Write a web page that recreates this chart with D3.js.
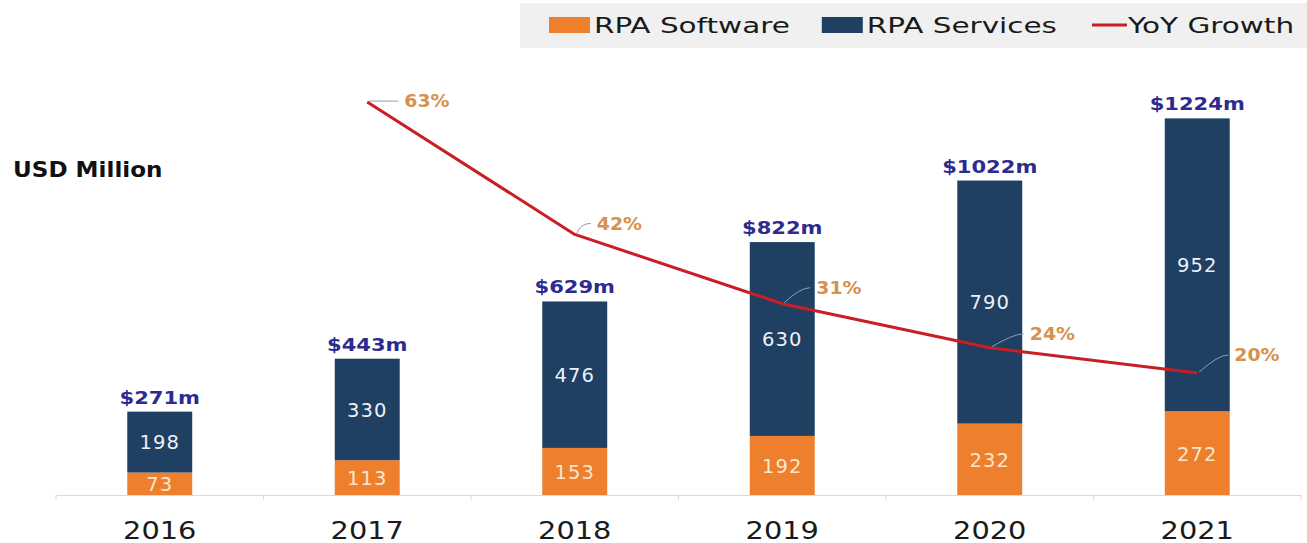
<!DOCTYPE html>
<html>
<head>
<meta charset="utf-8">
<script src="https://cdn.jsdelivr.net/npm/d3@7"></script>
<style>
  body { margin: 0; background: #fff; }
  svg { display: block; }
</style>
</head>
<body>
<svg id="chart" width="1307" height="543"></svg>
<script>
// Data
const years = ["2016", "2017", "2018", "2019", "2020", "2021"];
const software = [73, 113, 153, 192, 232, 272];
const services = [198, 330, 476, 630, 790, 952];
const totals = [271, 443, 629, 822, 1022, 1224];
const growthYears = ["2017", "2018", "2019", "2020", "2021"];
const growth = [63, 42, 31, 24, 20];
const legendLabels = ["RPA Software", "RPA Services", "YoY Growth"];
const unitLabel = "USD Million";

// Styling
const C = {
  software: "#EE7F2D",
  services: "#1F3F63",
  line: "#C81E24",
  total: "#2D2B90",
  pct: "#D6914C",
  axis: "#d9d9d9",
  leader: "#8a9fb6"
};
const FONT = "'DejaVu Sans', sans-serif";

const svg = d3.select("#chart");

// Scales
const x = d3.scaleBand().domain(years).range([56, 1301])
  .paddingInner(0.687).paddingOuter(0.3435);
const y = d3.scaleLinear().domain([0, 1300]).range([495, 95]);
const y2 = d3.scaleLinear().domain([0, 70]).range([499, 58]);
const cx = d => x(d) + x.bandwidth() / 2;

// Text helper: horizontally stretched text anchored at (tx, ty)
function stretchedText(sel, tx, ty, sx) {
  return sel.attr("x", 0).attr("y", 0)
    .attr("transform", `translate(${tx},${ty}) scale(${sx},1)`);
}

// Stacked bars
const table = years.map((yr, i) => ({ year: yr, software: software[i], services: services[i] }));
const stack = d3.stack().keys(["software", "services"])(table);

const layers = svg.append("g").selectAll("g")
  .data(stack).join("g")
  .attr("fill", d => C[d.key]);

layers.selectAll("rect")
  .data(d => d).join("rect")
  .attr("x", d => x(d.data.year))
  .attr("width", x.bandwidth())
  .attr("y", d => y(d[1]))
  .attr("height", d => y(d[0]) - y(d[1]));

// Segment value labels
layers.each(function (layer) {
  const col = layer.key === "software" ? "#FBE6CC" : "#EAF1F8";
  d3.select(this).selectAll("text")
    .data(layer).join("text")
    .attr("text-anchor", "middle")
    .attr("dominant-baseline", "central")
    .attr("font-family", FONT)
    .attr("font-size", 19)
    .attr("letter-spacing", 1)
    .attr("fill", col)
    .each(function (d) {
      stretchedText(d3.select(this), cx(d.data.year), (y(d[0]) + y(d[1])) / 2 + 1, 1.03);
    })
    .text(d => d.data[layer.key]);
});

// Total labels above bars
svg.append("g").selectAll("text")
  .data(years).join("text")
  .attr("text-anchor", "middle")
  .attr("font-family", FONT)
  .attr("font-weight", "bold")
  .attr("font-size", 18)
  .attr("fill", C.total)
  .each(function (d, i) {
    stretchedText(d3.select(this), cx(d), y(totals[i]) - 8, 1.17);
  })
  .text((d, i) => `$${totals[i]}m`);

// X axis
const axis = svg.append("g")
  .attr("transform", "translate(0,495)")
  .call(d3.axisBottom(x).tickSize(0).tickSizeOuter(0));
axis.select(".domain").attr("stroke", C.axis).attr("stroke-width", 1.2);
axis.selectAll(".tick text")
  .attr("font-family", FONT)
  .attr("font-size", 24)
  .attr("fill", "#1a1a1a")
  .attr("y", 44).attr("dy", 0)
  .attr("transform", "scale(1.2,1)");

// Category separator ticks
const step = x.step();
const bounds = d3.range(years.length + 1).map(k => x.range()[0] + k * step);
axis.append("g").selectAll("line")
  .data(bounds).join("line")
  .attr("x1", d => d).attr("x2", d => d)
  .attr("y1", 0).attr("y2", 5)
  .attr("stroke", C.axis);

// Growth line
const pts = growthYears.map((yr, i) => [cx(yr), y2(growth[i])]);
svg.append("path")
  .attr("d", d3.line()(pts))
  .attr("fill", "none")
  .attr("stroke", C.line)
  .attr("stroke-width", 3)
  .attr("stroke-linejoin", "round");

// Growth labels with leader lines (offset of label from its point)
const labelNudge = [[37, -1], [22, -11], [34, -16], [40, -14], [37, -18]];
const gl = svg.append("g");
pts.forEach((p, i) => {
  const [dx, dy] = labelNudge[i];
  const lx = p[0] + dx, ly = p[1] + dy;
  const path = d3.path();
  path.moveTo(p[0] + 2, p[1] - 1);
  path.quadraticCurveTo(lx - 16, ly, lx - 6, ly);
  gl.append("path")
    .attr("d", path.toString())
    .attr("fill", "none")
    .attr("stroke", C.leader)
    .attr("stroke-width", 1);
  const t = gl.append("text")
    .attr("font-family", FONT)
    .attr("font-weight", "bold")
    .attr("font-size", 18)
    .attr("fill", C.pct)
    .attr("dominant-baseline", "central")
    .text(`${growth[i]}%`);
  stretchedText(t, lx, ly, 1.05);
});

// Unit label
stretchedText(svg.append("text"), 13, 177, 1.05)
  .attr("font-family", FONT)
  .attr("font-weight", "bold")
  .attr("font-size", 22)
  .attr("fill", "#111")
  .text(unitLabel);

// Legend
const lg = svg.append("g");
lg.append("rect").attr("x", 520).attr("y", 3).attr("width", 787).attr("height", 45).attr("fill", "#f0f0f0");
const legendSx = 1.34;
let lxPos = 549;
const legendItems = [
  { label: legendLabels[0], type: "rect", color: C.software },
  { label: legendLabels[1], type: "rect", color: C.services },
  { label: legendLabels[2], type: "line", color: C.line }
];
legendItems.forEach((it, i) => {
  if (it.type === "rect") {
    lg.append("rect").attr("x", lxPos).attr("y", 17).attr("width", 41).attr("height", 16).attr("fill", it.color);
    lxPos += 45;
  } else {
    lxPos += 3;
    lg.append("line").attr("x1", lxPos).attr("x2", lxPos + 35).attr("y1", 25).attr("y2", 25)
      .attr("stroke", it.color).attr("stroke-width", 3);
    lxPos += 36;
  }
  const t = lg.append("text")
    .attr("font-family", FONT)
    .attr("font-size", 22)
    .attr("fill", "#1a1a1a")
    .text(it.label);
  stretchedText(t, lxPos, 33, legendSx);
  lxPos += t.node().getComputedTextLength() * legendSx + 32;
});
</script>
</body>
</html>
